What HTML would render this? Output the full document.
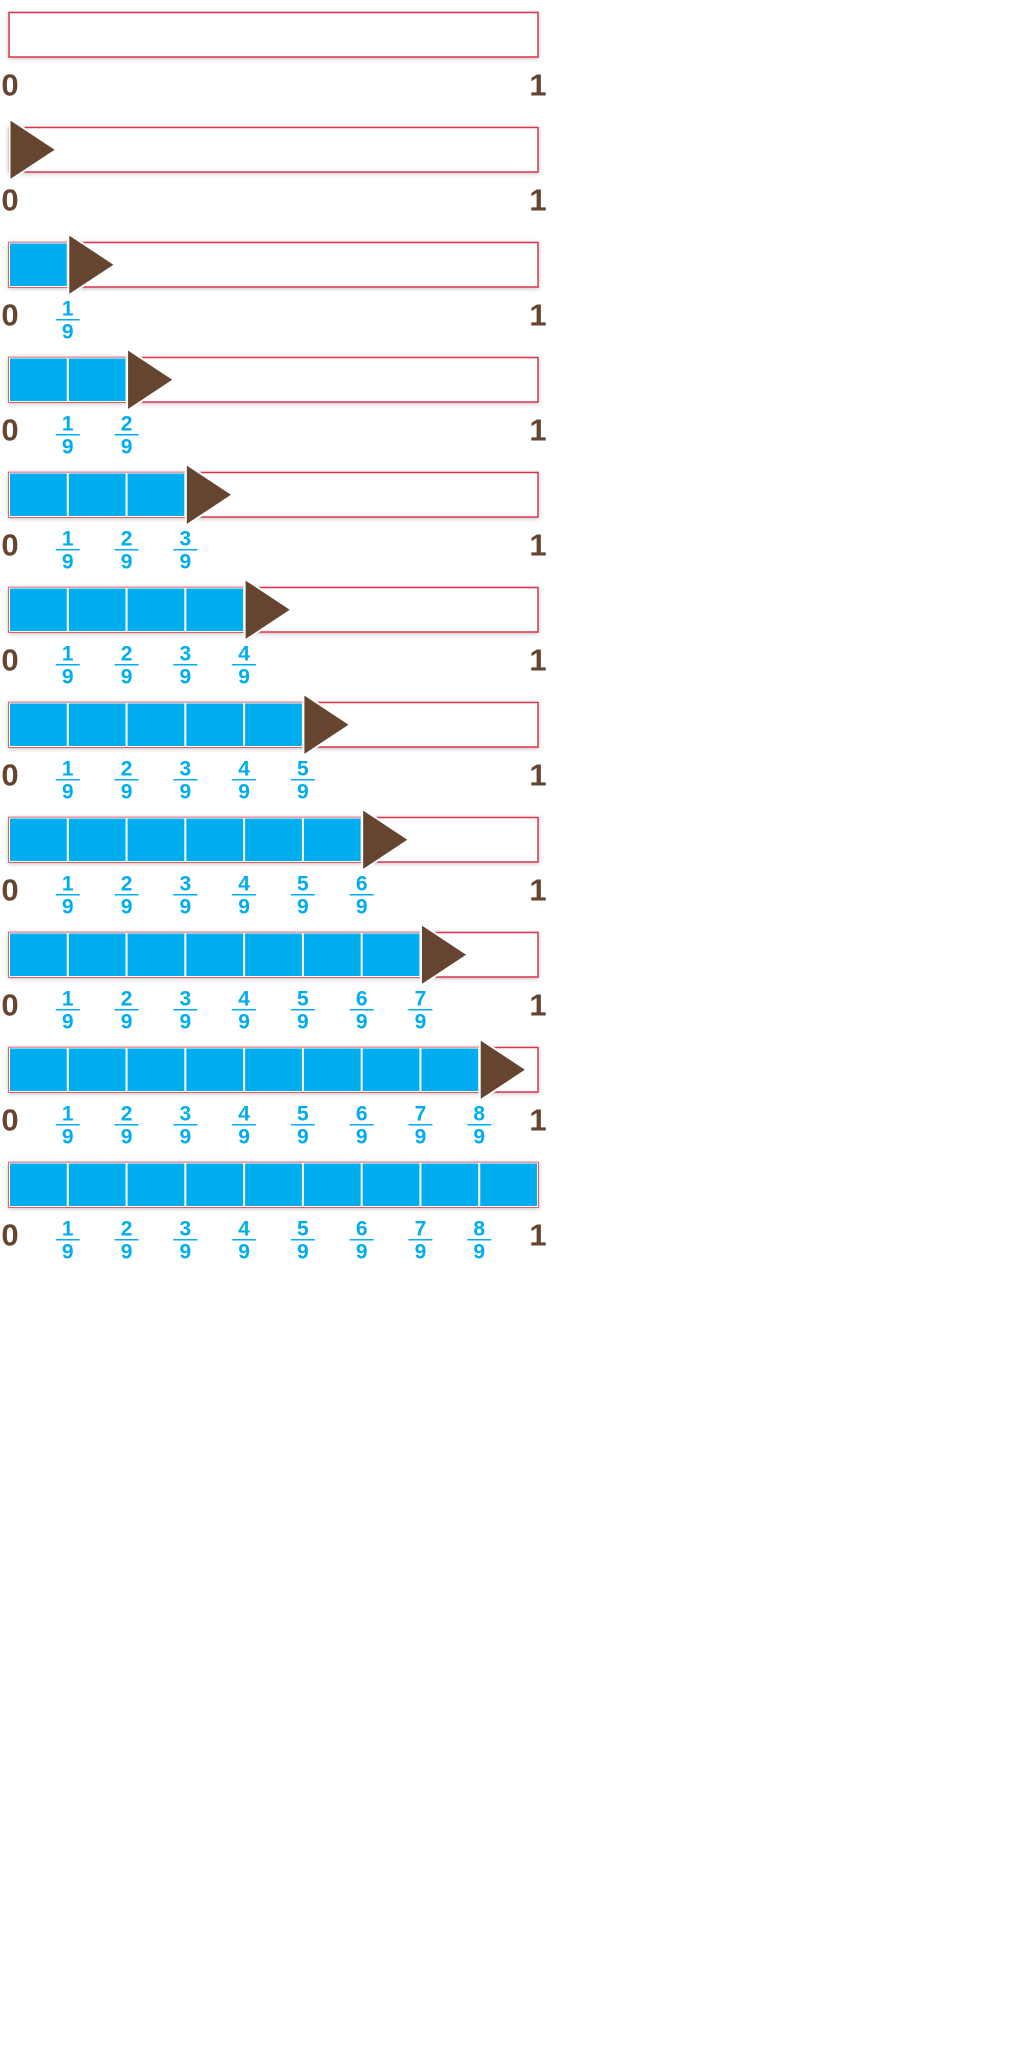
<!DOCTYPE html>
<html><head><meta charset="utf-8"><style>
html,body{margin:0;padding:0;background:#fff;width:1024px;height:2048px;overflow:hidden}
</style></head><body>
<svg id="s" width="1024" height="2048" xmlns="http://www.w3.org/2000/svg" font-family="Liberation Sans, Arial, sans-serif" font-weight="bold">
<defs><filter id="sh" x="-5%" y="-30%" width="110%" height="160%"><feDropShadow dx="0" dy="1" stdDeviation="2" flood-color="#000" flood-opacity="0.25"/></filter></defs>
</svg>
<script>
var s=document.getElementById('s'),h='';
var X0=9,W=529,CW=W/9,BH=44.5;
for(var i=0;i<11;i++){
 var y=12.5+115*i;
 h+='<rect x="'+X0+'" y="'+y+'" width="'+W+'" height="'+BH+'" fill="#fff" stroke="#d9344a" stroke-width="1.5" filter="url(#sh)"/>';
 var n=i<2?0:i-1;
 if(i==10)n=9;
 for(var k=0;k<n;k++){
  h+='<rect x="'+(X0+CW*k+0.5)+'" y="'+(y+0.5)+'" width="'+(CW-1)+'" height="'+(BH-1)+'" fill="#00aeef" stroke="#fff" stroke-width="1"/>';
 }
 h+='<text x="10" y="'+(y+83)+'" font-size="31" fill="#654530" text-anchor="middle">0</text>';
 h+='<text x="538" y="'+(y+83)+'" font-size="31" fill="#654530" text-anchor="middle">1</text>';
 var m=i<2?0:(i==10?8:i-1);
 for(var k=1;k<=m;k++){
  var cx=X0+CW*k;
  h+='<text x="'+cx+'" y="'+(y+73)+'" font-size="21" fill="#00aeef" text-anchor="middle">'+k+'</text>';
  h+='<rect x="'+(cx-12)+'" y="'+(y+76.5)+'" width="24" height="1.5" fill="#00aeef"/>';
  h+='<text x="'+cx+'" y="'+(y+96)+'" font-size="21" fill="#00aeef" text-anchor="middle">9</text>';
 }
 if(i>=1&&i<=9){
  var tx=X0+0.5+CW*(i-1),ty=y+BH/2;
  h+='<polygon points="'+tx+','+(ty-31)+' '+(tx+47)+','+ty+' '+tx+','+(ty+31)+'" fill="#654530" stroke="#fff" stroke-width="2" stroke-linejoin="miter"/>';
 }
}
s.innerHTML+=h;
</script>
</body></html>
